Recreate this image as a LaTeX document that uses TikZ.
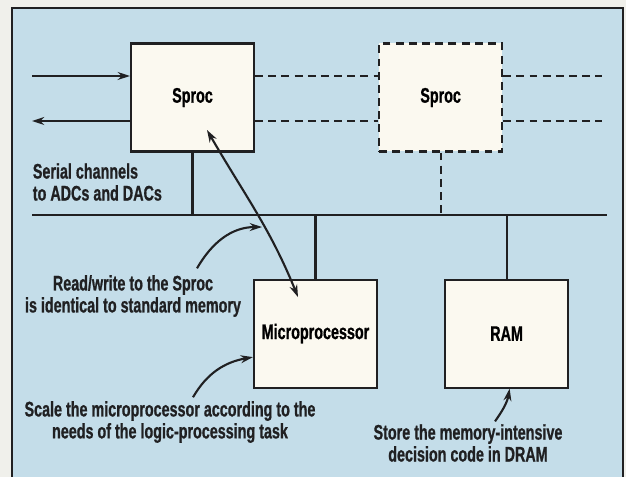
\documentclass[tikz,border=0pt]{standalone}
\usepackage{fontspec}
\setmainfont[FakeStretch=0.68,FakeBold=0.8]{Liberation Sans}
\usetikzlibrary{arrows.meta,positioning,calc}
\definecolor{panel}{RGB}{196,221,233}
\definecolor{paper}{RGB}{240,240,235}
\definecolor{boxfill}{RGB}{251,249,240}
\definecolor{ink}{RGB}{32,32,34}

\begin{document}
\begin{tikzpicture}[
    node distance=2.46cm,
    font=\fontsize{12}{12.5}\selectfont\bfseries,
    box/.style={rectangle, draw=ink, line width=1.2pt, fill=boxfill, minimum width=2.46cm, minimum height=2.16cm},
    ghostbox/.style={box, dash pattern=on 4.5pt off 3pt},
    wire/.style={draw=ink, line width=1.2pt},
    dashwire/.style={wire, dash pattern=on 4.5pt off 3pt},
    arrow/.style={wire, -{Stealth[length=7pt,width=4.5pt]}},
    dblarrow/.style={wire, {Stealth[length=7pt,width=4.5pt]}-{Stealth[length=7pt,width=4.5pt]}},
    note/.style={align=center, text=ink, inner sep=2pt}
]
    \path[use as bounding box, fill=paper] (0,0) rectangle (12.52,-9.54);
    \fill[panel] (0.24,-0.16) rectangle (12.46,-9.54);
    \draw[ink, line width=0.8pt] (0.24,-9.54) |- (12.46,-0.16) -- (12.46,-9.54);

    \node[box] (sproc) at (3.85,-1.95) {Sproc};
    \node[ghostbox, right=of sproc] (sproc2) {Sproc};
    \node[box, below=2.52cm of sproc, xshift=2.46cm] (micro) {Microprocessor};
    \node[box, right=1.32cm of micro] (ram) {RAM};

    \coordinate (inL) at (0.64,-1.52);
    \coordinate (outL) at (0.64,-2.42);
    \coordinate (inR) at (12.04,-1.52);
    \coordinate (outR) at (12.04,-2.42);
    \coordinate (busL) at (0.64,-4.3);
    \coordinate (busR) at (12.14,-4.3);

    \draw[arrow] (inL) -- (inL -| sproc.west);
    \draw[arrow] (outL -| sproc.west) -- (outL);
    \draw[dashwire] (inL -| sproc.east) -- (inL -| sproc2.west);
    \draw[dashwire] (outL -| sproc.east) -- (outL -| sproc2.west);
    \draw[dashwire] (inR -| sproc2.east) -- (inR);
    \draw[dashwire] (outR -| sproc2.east) -- (outR);

    \draw[wire] (busL) -- (busR);
    \draw[wire] (sproc.south) -- (sproc.south |- busL);
    \draw[dashwire] (sproc2.south) -- (sproc2.south |- busL);
    \draw[wire] (micro.north) -- (micro.north |- busL);
    \draw[wire] (ram.north) -- (ram.north |- busL);

    \node[note, anchor=west, align=left] (serial) at (0.58,-3.64) {Serial channels\\to ADCs and DACs};
    \node[note] (rw) at (2.66,-5.92) {Read/write to the Sproc\\is identical to standard memory};
    \node[note] (scale) at (3.4,-8.44) {Scale the microprocessor according to the\\needs of the logic-processing task};
    \node[note] (store) at (9.36,-8.86) {Store the memory-intensive\\decision code in DRAM};

    \draw[dblarrow] ($(sproc.center)+(0.29,-0.65)$) to[out=-60, in=112] coordinate[pos=0.6] (hit) ($(micro.center)+(-0.35,0.73)$);
    \draw[arrow] ($(rw.north)+(1.28,0.06)$) to[out=60, in=180] ([xshift=-1.5pt]hit);
    \draw[arrow] ($(scale.north)+(0.46,0)$) to[out=60, in=190] ([yshift=-0.47cm]micro.west);
    \draw[arrow] ($(store.north)+(0.54,-0.02)$) to[out=55, in=-100] ([xshift=0.06cm]ram.south);
\end{tikzpicture}
\end{document}
